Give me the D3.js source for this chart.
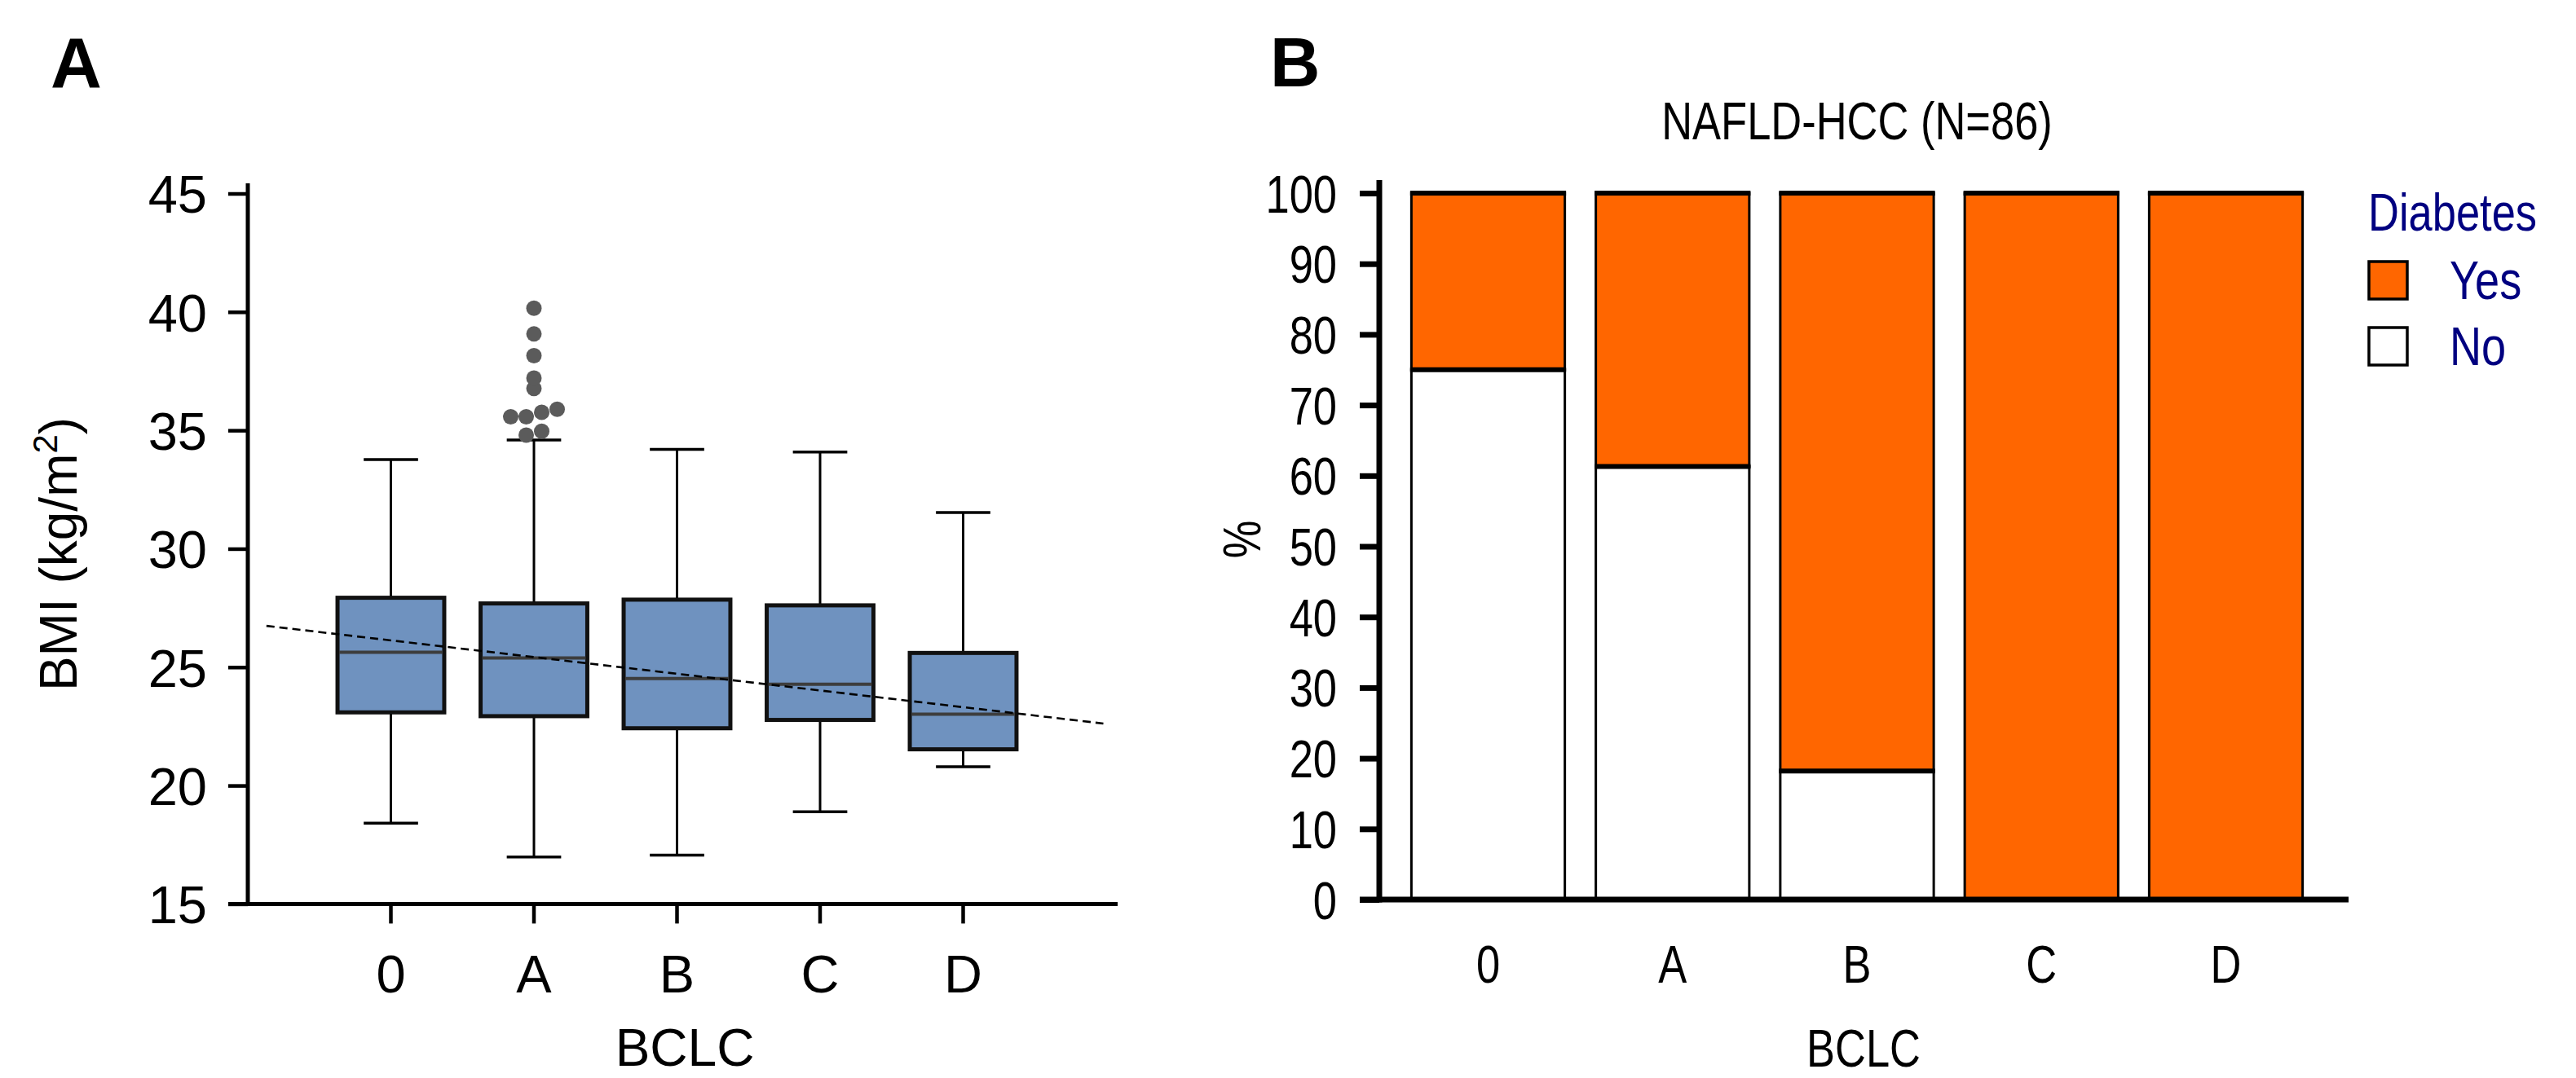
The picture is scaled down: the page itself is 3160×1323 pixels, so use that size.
<!DOCTYPE html>
<html>
<head>
<meta charset="utf-8">
<script src="https://cdn.jsdelivr.net/npm/d3@7"></script>
<style>
body { margin: 0; background: #ffffff; }
svg text { font-family: "Liberation Sans", Arial, Helvetica, sans-serif; }
</style>
</head>
<body>
<svg id="figur" width="3160" height="1323"></svg>
<script>
// ---- Panel A: BMI per BCLC stage ----
var bclc = ["0", "A", "B", "C", "D"];
var whiskerLow  = [18.41, 16.98, 17.06, 18.89, 20.79];
var q1          = [23.09, 22.93, 22.42, 22.77, 21.53];
var median      = [25.63, 25.39, 24.52, 24.28, 23.01];
var q3          = [27.93, 27.69, 27.85, 27.61, 25.60];
var whiskerHigh = [33.77, 34.59, 34.20, 34.08, 31.53];
var outlierStage = "A";
var outlierBmi = [34.80, 34.96, 35.57, 35.57, 35.76, 35.89, 36.77, 37.21, 38.15, 39.07, 40.16];
var bmiTicks = [15, 20, 25, 30, 35, 40, 45];
// trend line (BMI at stage 0, change per stage, drawn span in stages)
var trendIntercept = 26.13;
var trendSlope = -0.705;
var trendSpan = [-0.87, 4.98];

// ---- Panel B: diabetes share per BCLC stage ----
var diabetesNo  = [75.0, 61.3, 18.2, 0, 0];
var diabetesYes = [25.0, 38.7, 81.8, 100, 100];
var pctTicks = [0, 10, 20, 30, 40, 50, 60, 70, 80, 90, 100];
var legendLabels = ["Yes", "No"];

var orange = "#ff6600";
var boxBlue = "#6f92bf";
var navy = "#000080";
var narrow = 0.82;

var svg = d3.select("#figur");
svg.append("rect").attr("width", 3160).attr("height", 1323).attr("fill", "#ffffff");

// tekst som er smalere (panel B bruker en smal skrift)
function smalTekst(parent, x, y, txt, size, anchor, color) {
    return parent.append("g")
        .attr("transform", "translate(" + x + "," + y + ") scale(" + narrow + ",1)")
        .append("text")
        .attr("text-anchor", anchor)
        .style("font-size", size + "px")
        .style("fill", color || "#000")
        .text(txt);
}

// =================== PANEL A ===================
var yA = d3.scaleLinear().domain([15, 45]).range([1109.4, 237.5]);
var xA = d3.scalePoint().domain(bclc).range([479.5, 1181.5]);
var stageX = d3.scaleLinear().domain([0, bclc.length - 1]).range([479.5, 1181.5]);
var step = xA.step();
var boxW = step * 0.746;
var capW = step * 0.38;

var gA = svg.append("g");

gA.append("text")
    .attr("x", 62).attr("y", 107)
    .style("font-size", "87px").style("font-weight", "bold")
    .text("A");

// y axis with ticks
var axisA = gA.append("g")
    .attr("transform", "translate(304,0)")
    .call(d3.axisLeft(yA).tickValues(bmiTicks).tickSize(24).tickSizeOuter(0).tickPadding(26));
axisA.select(".domain").remove();
axisA.selectAll(".tick line").attr("stroke", "#000").attr("stroke-width", 4.5);
axisA.selectAll(".tick text")
    .attr("dy", "0.36em")
    .style("font-size", "65px")
    .style("font-family", "'Liberation Sans', Arial, sans-serif")
    .attr("fill", "#000");

gA.append("line")
    .attr("x1", 304).attr("x2", 304)
    .attr("y1", 225).attr("y2", yA(15) + 2.5)
    .attr("stroke", "#000").attr("stroke-width", 5);
gA.append("line")
    .attr("x1", 280).attr("x2", 1371)
    .attr("y1", yA(15)).attr("y2", yA(15))
    .attr("stroke", "#000").attr("stroke-width", 5);

gA.selectAll(".xtickA")
    .data(bclc)
    .enter().append("line")
    .attr("x1", function(d) { return xA(d); })
    .attr("x2", function(d) { return xA(d); })
    .attr("y1", yA(15))
    .attr("y2", yA(15) + 24)
    .attr("stroke", "#000").attr("stroke-width", 4.5);

gA.selectAll(".xlabA")
    .data(bclc)
    .enter().append("text")
    .attr("x", function(d) { return xA(d); })
    .attr("y", 1218)
    .attr("text-anchor", "middle")
    .style("font-size", "65px")
    .text(function(d) { return d; });

gA.append("text")
    .attr("x", 840).attr("y", 1308)
    .attr("text-anchor", "middle")
    .style("font-size", "64px")
    .text("BCLC");

var yLab = gA.append("text")
    .attr("transform", "translate(94,680) rotate(-90)")
    .attr("text-anchor", "middle")
    .style("font-size", "64px");
yLab.append("tspan").text("BMI (kg/m");
yLab.append("tspan").attr("dy", -24).style("font-size", "42px").text("2");
yLab.append("tspan").attr("dy", 24).text(")");

// whiskers
bclc.forEach(function(s, i) {
    var cx = xA(s);
    gA.append("line")
        .attr("x1", cx).attr("x2", cx)
        .attr("y1", yA(whiskerHigh[i])).attr("y2", yA(q3[i]))
        .attr("stroke", "#000").attr("stroke-width", 3);
    gA.append("line")
        .attr("x1", cx).attr("x2", cx)
        .attr("y1", yA(q1[i])).attr("y2", yA(whiskerLow[i]))
        .attr("stroke", "#000").attr("stroke-width", 3);
    [whiskerHigh[i], whiskerLow[i]].forEach(function(v) {
        gA.append("line")
            .attr("x1", cx - capW / 2).attr("x2", cx + capW / 2)
            .attr("y1", yA(v)).attr("y2", yA(v))
            .attr("stroke", "#000").attr("stroke-width", 3.5);
    });
});

// boxes
gA.selectAll(".boks")
    .data(bclc)
    .enter().append("rect")
    .attr("x", function(d) { return xA(d) - boxW / 2; })
    .attr("y", function(d, i) { return yA(q3[i]); })
    .attr("width", boxW)
    .attr("height", function(d, i) { return yA(q1[i]) - yA(q3[i]); })
    .attr("fill", boxBlue)
    .attr("stroke", "#111")
    .attr("stroke-width", 5);

gA.selectAll(".median")
    .data(bclc)
    .enter().append("line")
    .attr("x1", function(d) { return xA(d) - boxW / 2 + 2; })
    .attr("x2", function(d) { return xA(d) + boxW / 2 - 2; })
    .attr("y1", function(d, i) { return yA(median[i]); })
    .attr("y2", function(d, i) { return yA(median[i]); })
    .attr("stroke", "#3d3d3d")
    .attr("stroke-width", 4);

// outliers, grouped in rows like the original scatter
var sorted = outlierBmi.slice().sort(d3.ascending);
var rows = [];
sorted.forEach(function(v) {
    var last = rows[rows.length - 1];
    if (last && v - last[0] < 0.4) last.push(v);
    else rows.push([v]);
});
var dotR = 9.5;
var dots = [];
rows.forEach(function(row) {
    row.forEach(function(v, j) {
        dots.push({ v: v, off: (j - (row.length - 1) / 2) * dotR * 2 });
    });
});
gA.selectAll(".uteligger")
    .data(dots)
    .enter().append("circle")
    .attr("cx", function(d) { return xA(outlierStage) + d.off; })
    .attr("cy", function(d) { return yA(d.v); })
    .attr("r", dotR)
    .attr("fill", "#5b5b5b");

// dashed trend line
gA.append("line")
    .attr("x1", stageX(trendSpan[0]))
    .attr("y1", yA(trendIntercept + trendSlope * trendSpan[0]))
    .attr("x2", stageX(trendSpan[1]))
    .attr("y2", yA(trendIntercept + trendSlope * trendSpan[1]))
    .attr("stroke", "#000")
    .attr("stroke-width", 2.6)
    .attr("stroke-dasharray", "10,6");

// =================== PANEL B ===================
var yB = d3.scaleLinear().domain([0, 100]).range([1104, 237]);
var xB = d3.scaleBand().domain(bclc).range([1692, 2864]).paddingInner(0.168).paddingOuter(0.174);

var gB = svg.append("g");

gB.append("text")
    .attr("x", 1558).attr("y", 106)
    .style("font-size", "85px").style("font-weight", "bold")
    .text("B");

smalTekst(gB, 2278, 171, "NAFLD-HCC (N=86)", 64, "middle");

// stacked bars: first the filled segments, then the thick top edges
var segs = [];
bclc.forEach(function(s, i) {
    segs.push({ stage: s, lo: 0, hi: diabetesNo[i], fill: "#ffffff" });
    segs.push({ stage: s, lo: diabetesNo[i], hi: diabetesNo[i] + diabetesYes[i], fill: orange });
});
segs = segs.filter(function(d) { return d.hi - d.lo > 0; });

gB.selectAll(".seg")
    .data(segs)
    .enter().append("rect")
    .attr("x", function(d) { return xB(d.stage); })
    .attr("y", function(d) { return yB(d.hi); })
    .attr("width", xB.bandwidth())
    .attr("height", function(d) { return yB(d.lo) - yB(d.hi); })
    .attr("fill", function(d) { return d.fill; })
    .attr("stroke", "#000")
    .attr("stroke-width", 3);

gB.selectAll(".segtopp")
    .data(segs)
    .enter().append("line")
    .attr("x1", function(d) { return xB(d.stage) - 1.5; })
    .attr("x2", function(d) { return xB(d.stage) + xB.bandwidth() + 1.5; })
    .attr("y1", function(d) { return yB(d.hi); })
    .attr("y2", function(d) { return yB(d.hi); })
    .attr("stroke", "#000")
    .attr("stroke-width", 6);

// axes
var axisB = gB.append("g")
    .attr("transform", "translate(1692,0)")
    .call(d3.axisLeft(yB).tickValues(pctTicks).tickSize(24).tickSizeOuter(0));
axisB.select(".domain").remove();
axisB.selectAll(".tick line").attr("stroke", "#000").attr("stroke-width", 7);
axisB.selectAll(".tick text")
    .attr("x", -52 / narrow)
    .attr("dy", "0.36em")
    .attr("transform", "scale(" + narrow + ",1)")
    .style("font-size", "64px")
    .style("font-family", "'Liberation Sans', Arial, sans-serif")
    .attr("fill", "#000");

gB.append("line")
    .attr("x1", 1692).attr("x2", 1692)
    .attr("y1", 221).attr("y2", yB(0) + 3.5)
    .attr("stroke", "#000").attr("stroke-width", 7);
gB.append("line")
    .attr("x1", 1668).attr("x2", 2881)
    .attr("y1", yB(0)).attr("y2", yB(0))
    .attr("stroke", "#000").attr("stroke-width", 7);

bclc.forEach(function(s) {
    smalTekst(gB, xB(s) + xB.bandwidth() / 2, 1206, s, 64, "middle");
});
smalTekst(gB, 2286, 1309, "BCLC", 64, "middle");

gB.append("g")
    .attr("transform", "translate(1546,662) rotate(-90) scale(" + narrow + ",1)")
    .append("text")
    .attr("text-anchor", "middle")
    .style("font-size", "64px")
    .text("%");

// legend
smalTekst(gB, 2905, 283, "Diabetes", 64, "start", navy);
legendLabels.forEach(function(lab, i) {
    var top = 321 + i * 81;
    gB.append("rect")
        .attr("x", 2906).attr("y", top)
        .attr("width", 47).attr("height", 46)
        .attr("fill", lab === "Yes" ? orange : "#ffffff")
        .attr("stroke", "#000").attr("stroke-width", 3.5);
    smalTekst(gB, 3005, top + 46, lab, 66, "start", navy);
});
</script>
</body>
</html>
